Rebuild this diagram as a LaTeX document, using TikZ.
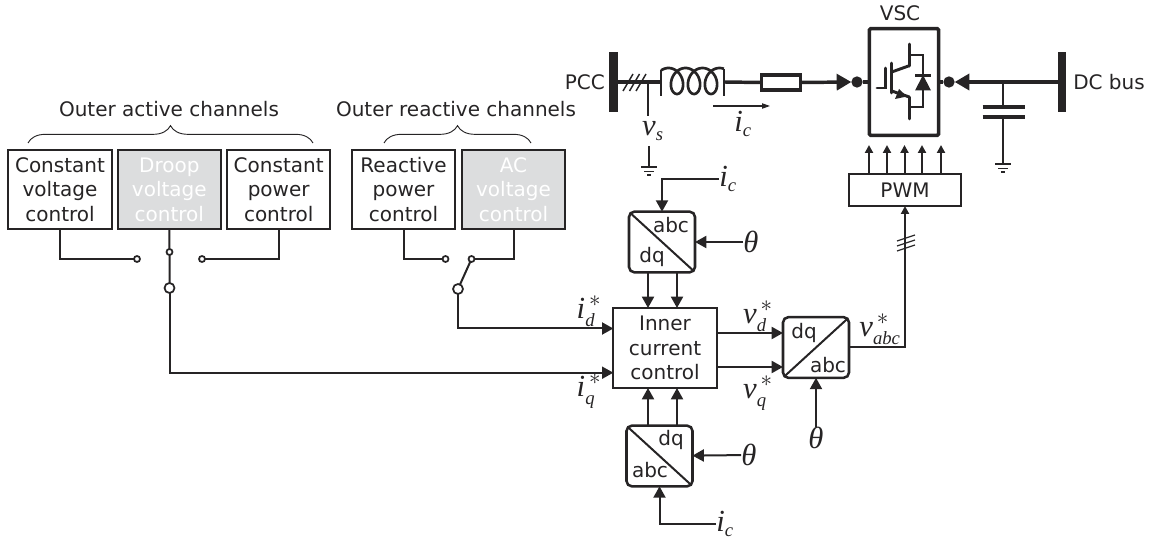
\documentclass[tikz,border=0pt]{standalone}
\usepackage{fontspec}
\setmainfont{DejaVu Sans}
\newfontfamily\symfamily{Liberation Serif}
\newcommand{\sv}[1]{\mbox{\symfamily\itshape #1}}
\newcommand{\sx}[1]{\mbox{\fontsize{14}{16}\selectfont\symfamily\itshape #1}}
\usetikzlibrary{arrows.meta,positioning,decorations.pathreplacing}
\definecolor{ink}{RGB}{38,36,37}
\definecolor{shade}{RGB}{220,221,222}
\tikzset{
  ctrl/.style={draw=ink,line width=1.3pt,fill=white,text=ink,minimum width=77.5pt,minimum height=59.5pt,
    inner sep=0pt,outer sep=0pt,align=center,font=\fontsize{15}{18.4}\selectfont},
  ctrloff/.style={ctrl,fill=shade,text=white},
  conv/.style={draw=ink,line width=1.9pt,rounded corners=4pt,minimum width=49.5pt,minimum height=45.5pt,inner sep=0pt,outer sep=0pt},
  convtext/.style={text=ink,inner sep=0pt,font=\fontsize{15}{18}\selectfont},
  plain/.style={text=ink,inner sep=0pt,font=\fontsize{15}{18}\selectfont},
  sym/.style={text=ink,inner sep=0pt,font=\fontsize{23}{26}\selectfont},
  contact/.style={circle,draw=ink,line width=1.3pt,fill=white,inner sep=0pt,outer sep=0pt,minimum size=4.5pt},
  pole/.style={circle,draw=ink,line width=1.3pt,fill=white,inner sep=0pt,outer sep=0pt,minimum size=7.5pt},
  wire/.style={draw=ink,line width=1.5pt},
  sig/.style={wire,-{Triangle[length=8.5pt,width=9pt]}},
  gate/.style={wire,-{Triangle[length=6pt,width=6pt]}},
  power/.style={draw=ink,line width=2.6pt},
  bus/.style={fill=ink,inner sep=0pt,outer sep=0pt,minimum width=6.5pt,minimum height=45pt},
  earth/.style={draw=ink,line width=1pt},
  overbrace/.style={draw=ink,line width=.7pt,decorate,decoration={brace,amplitude=13pt}}
}
\begin{document}
\begin{tikzpicture}[x=0.75pt,y=-0.75pt]
\useasboundingbox (0,0) rectangle (1160,541);

% outer channels
\node[ctrl] (CV) at (60,189.5) {Constant\\voltage\\control};
\node[ctrloff,right=4.5pt of CV] (DV) {Droop\\voltage\\control};
\node[ctrl,right=4.5pt of DV] (CP) {Constant\\power\\control};
\node[ctrl] (RP) at (403.5,189.5) {Reactive\\power\\control};
\node[ctrloff,right=5pt of RP] (AV) {AC\\voltage\\control};

\node[plain] (Tactive) at (169,109) {Outer active channels};
\node[plain] (Treactive) at (456,109) {Outer reactive channels};
\coordinate (Ba1) at (28,143);
\coordinate (Ba2) at (313,143);
\coordinate (Br1) at (384,143);
\coordinate (Br2) at (531,143);
\draw[overbrace] (Ba1) -- (Ba2);
\draw[overbrace] (Br1) -- (Br2);

% selector switches
\node[contact] (S1) at (137,259) {};
\node[contact] (S2) at (169.5,252) {};
\node[contact] (S3) at (202,259) {};
\node[pole] (P1) at (169.5,288) {};
\node[contact] (S4) at (445.5,259) {};
\node[contact] (S5) at (471.5,259) {};
\node[pole] (P2) at (458,289) {};
\draw[wire] (CV.south) |- (S1);
\draw[wire] (DV.south) -- (S2) -- (P1);
\draw[wire] (CP.south) |- (S3);
\draw[wire] (RP.south) |- (S4);
\draw[wire] (AV.south) |- (S5);
\draw[wire] (S5) -- (P2);

% inner loop
\node[ctrl,minimum height=60pt] (ICC) at (665,348) {Inner\\current\\control};
\coordinate (Id) at (ICC.west |- 0,328.5);
\coordinate (Iq) at (ICC.west |- 0,372.7);
\draw[sig] (P2) |- (Id);
\draw[sig] (P1) |- (Iq);
\node[sym] (Lid) at (589,311) {$\sv{i}_{\sx{d}}^{\,*}$};
\node[sym] (Liq) at (589,391) {$\sv{i}_{\sx{q}}^{\,*}$};

% abc/dq blocks
\node[conv] (ConvT) at (662,242) {};
\node[conv] (ConvB) at (659.5,456) {};
\node[conv] (ConvR) at (816,347.5) {};
\draw[wire] ([xshift=1.5pt,yshift=-1.5pt]ConvT.north west) -- ([xshift=-1.5pt,yshift=1.5pt]ConvT.south east);
\draw[wire] ([xshift=1.5pt,yshift=-1.5pt]ConvB.north west) -- ([xshift=-1.5pt,yshift=1.5pt]ConvB.south east);
\draw[wire] ([xshift=1.5pt,yshift=1.5pt]ConvR.south west) -- ([xshift=-1.5pt,yshift=-1.5pt]ConvR.north east);
\node[convtext] (Tabc) at (671,225) {abc};
\node[convtext] (Tdq) at (652,257) {dq};
\node[convtext] (Bdq) at (671,440) {dq};
\node[convtext] (Babc) at (650,470) {abc};
\node[convtext] (Rdq) at (804,333) {dq};
\node[convtext] (Rabc) at (828,365) {abc};

% measurements and angle
\node[sym] (Lic1) at (728,179) {$\sv{i}_{\sx{c}}$};
\node[sym] (Lic2) at (725,524) {$\sv{i}_{\sx{c}}$};
\node[sym] (Lth1) at (751,242) {$\sv{θ}$};
\node[sym] (Lth2) at (749,455) {$\sv{θ}$};
\node[sym] (Lth3) at (816,438) {$\sv{θ}$};
\draw[sig] (Lic1.west) -| (ConvT.north);
\draw[sig] (Lic2.west) -| (ConvB.south);
\draw[sig] (Lth1) -- (ConvT);
\draw[sig] (Lth2) -- (ConvB);
\draw[sig] (Lth3) -- (ConvR);
\foreach \X in {648,677}
{
  \draw[sig] (\X,272) -- (\X,308);
  \draw[sig] (\X,425) -- (\X,388);
}
\draw[sig] (717,333) -- (783,333);
\draw[sig] (717,367) -- (783,367);
\node[sym] (Lvd) at (758,316) {$\sv{v}_{\sx{d}}^{\,*}$};
\node[sym] (Lvq) at (758,393) {$\sv{v}_{\sx{q}}^{\,*}$};
\node[sym] (Lvabc) at (880,329) {$\sv{v}_{\sx{abc}}^{\,*}$};

% modulator
\node[ctrl,minimum width=84pt,minimum height=24pt] (PWM) at (905,190) {PWM};
\draw[gate] (ConvR.east) -| (PWM.south);
\foreach \Y in {238,243,248}
{\draw[wire,line width=.9pt] (897,\Y+3) -- (915,\Y-3);}
\foreach \X in {869,887,904.5,922,941}
{\draw[gate] (\X,174) -- (\X,145);}

% converter
\node[draw=ink,line width=2.7pt,rounded corners=1pt,minimum width=52pt,minimum height=80pt,inner sep=0pt,outer sep=0pt] (VSC) at (904,82) {};
\node[plain] (LVSC) at (900,13) {VSC};
\begin{scope}[power,line width=2.2pt]
  \draw[line cap=round] (885.7,68) -- (885.7,88) -- (877,88);
  \draw[line cap=round] (891.7,63) -- (891.7,93);
  \draw (891.7,72) -- (909.3,65.7);
  \draw[line cap=round] (909.3,44) -- (909.3,66);
  \draw (891.7,91) -- (909.3,97);
  \draw[line cap=round] (909.3,97) -- (909.3,119);
  \draw[line width=1.6pt] (909.3,55) -- (922.7,55) -- (922.7,107) -- (909.3,107);
  \draw[line width=1.6pt] (915,75.5) -- (931,75.5);
\end{scope}
\fill[ink] (915,90.5) -- (931,90.5) -- (923,75) -- cycle;
\fill[ink] (907,96.5) -- (895,99) -- (899,89) -- cycle;

% ac side
\node[bus,label={[plain,name=LPCC,xshift=-3pt]left:PCC}] (PCCbar) at (613.5,82) {};
\coordinate (Lin) at (661,82);
\coordinate (Lout) at (724,82);
\draw[power] (PCCbar) -- (Lin);
\draw[power,line width=2pt] plot[smooth,samples=120,domain=-35:1100,variable=\t]
  ({668.5+\t/360*17+10*sin(\t)},{81-13*cos(\t)});
\draw[power,line width=2pt] (Lin) ++(0,-12) -- ++(0,26);
\draw[power,line width=2pt] (Lout) ++(0,-13) -- ++(0,27);
\node[draw=ink,line width=2.6pt,minimum width=29.5pt,minimum height=11.5pt,inner sep=0pt,outer sep=0pt] (Rf) at (781,82.5) {};
\node[circle,fill=ink,inner sep=0pt,outer sep=0pt,minimum size=8.5pt] (DotL) at (857,82) {};
\draw[power] (Lout) -- (Rf.west);
\draw[power,-{Triangle[length=11pt,width=12pt]}] (Rf.east) -- (DotL.west);
\draw[power] (DotL) -- (VSC.west);
\foreach \Y in {-8,-1.5,5}
{\draw[wire,line width=1.1pt] (631+\Y,91) -- (641+\Y,74);}
\coordinate (Vtap) at (648,82);
\coordinate (Vend) at (648,116);
\draw[wire,line width=.9pt] (Vtap) -- (Vend);
\node[sym] (Lvs) at (653,131) {$\sv{v}_{\sx{s}}$};
\coordinate (Gnd1) at (649,167);
\coordinate (Gtop1) at (649,146);
\draw[wire] (Gtop1) -- (Gnd1);
\draw[earth] (641,167) -- (657,167) (644,171.5) -- (654,171.5) (647,175) -- (651,175);
\coordinate (Iarrow1) at (713,106);
\coordinate (Iarrow2) at (770,106);
\draw[wire,line width=.8pt,-{Triangle[length=6pt,width=4pt]}] (Iarrow1) -- (Iarrow2);
\node[sym] (Lic3) at (743,124) {$\sv{i}_{\sx{c}}$};

% dc side
\node[bus,label={[plain,name=LDC,xshift=5pt]right:DC bus}] (DCbar) at (1062,82) {};
\node[circle,fill=ink,inner sep=0pt,outer sep=0pt,minimum size=8.5pt] (DotR) at (949,82) {};
\draw[power] (VSC.east) -- (DotR);
\draw[power,-{Triangle[length=11pt,width=12pt]}] (DCbar) -- (DotR.east);
\coordinate (Cap) at (1003,82);
\coordinate (Cup) at (1003,107);
\coordinate (Cdn) at (1003,117);
\coordinate (Gnd2) at (1003,164);
\draw[wire,line width=1.9pt] (Cap) -- (Cup);
\draw[wire,line width=1.9pt] (Cdn) -- (1003,143);
\draw[wire] (1003,143) -- (Gnd2);
\draw[draw=ink,line width=3.6pt] (982.5,107) -- (1025,107) (982.5,117) -- (1025,117);
\draw[earth] (995,164) -- (1011,164) (998,168.5) -- (1008,168.5) (1001,172) -- (1005,172);
\end{tikzpicture}
\end{document}
